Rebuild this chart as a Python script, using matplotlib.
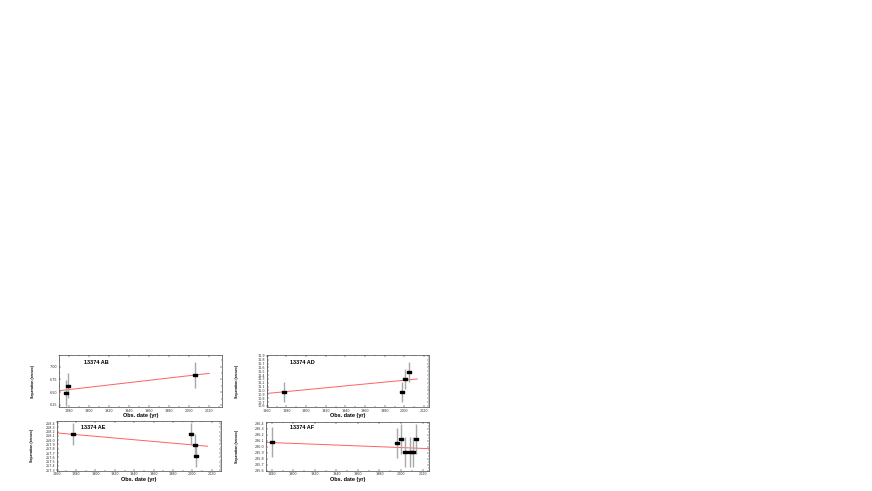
import matplotlib
matplotlib.use("Agg")
import matplotlib.pyplot as plt
from matplotlib.ticker import MultipleLocator, AutoMinorLocator

# ---------------- data ----------------
ab_years = [1876.7, 1878.4, 2005.7]
ab_sep = [6.48, 6.63, 6.84]
ab_err = [0.25, 0.25, 0.25]
ab_fit_x = [1870.0, 2020.0]
ab_fit_y = [6.53, 6.87]

ad_years = [1878.0, 1998.0, 2001.0, 2005.0]
ad_sep = [10.97, 10.96, 11.29, 11.49]
ad_err = [0.26, 0.27, 0.26, 0.26]
ad_fit_x = [1861.0, 2013.0]
ad_fit_y = [10.925, 11.30]

ae_years = [1876.8, 1998.4, 2002.8, 2003.5]
ae_sep = [258.145, 258.145, 257.88, 257.64]
ae_err = [0.26, 0.26, 0.27, 0.26]
ae_fit_x = [1860.0, 2015.6]
ae_fit_y = [258.17, 257.86]

af_years = [1880.0, 1996.0, 2000.0, 2004.0, 2008.0, 2011.0, 2013.5]
af_sep = [286.076, 286.065, 286.132, 285.909, 285.909, 285.919, 286.137]
af_err = [0.25, 0.25, 0.25, 0.25, 0.25, 0.25, 0.25]
af_fit_x = [1874.4, 2026.0]
af_fit_y = [286.076, 285.97]

titles = ["13374 AB", "13374 AD", "13374 AE", "13374 AF"]
xlabel = "Obs. date (yr)"
ylabel = "Separation (arcsec)"

# ---------------- layout ----------------
W, H = 872, 491
fig = plt.figure(figsize=(W / 100, H / 100), dpi=100)


def px_axes(x0, y0, x1, y1):
    return fig.add_axes([x0 / W, 1 - y1 / H, (x1 - x0) / W, (y1 - y0) / H])


panels = [
    dict(box=(59.3, 355, 222, 407), x=ab_years, y=ab_sep, e=ab_err, fx=ab_fit_x, fy=ab_fit_y,
         xlim=(1870, 2032.7), ylim=(6.21, 7.23), xt=20, yt=0.25, yfmt="%.2f",
         title_pos=(0.15, 0.85), ylab_x=33, xlab_y=415),
    dict(box=(266.7, 355, 429, 407), x=ad_years, y=ad_sep, e=ad_err, fx=ad_fit_x, fy=ad_fit_y,
         xlim=(1860, 2025), ylim=(10.57, 11.925), xt=20, yt=0.1, yfmt="%.1f",
         title_pos=(0.144, 0.85), ylab_x=237, xlab_y=415),
    dict(box=(56.7, 421, 221, 470.7), x=ae_years, y=ae_sep, e=ae_err, fx=ae_fit_x, fy=ae_fit_y,
         xlim=(1860, 2029.6), ylim=(257.29, 258.447), xt=20, yt=0.1, yfmt="%.1f",
         title_pos=(0.146, 0.86), ylab_x=32, xlab_y=479),
    dict(box=(265.7, 422, 429, 470.7), x=af_years, y=af_sep, e=af_err, fx=af_fit_x, fy=af_fit_y,
         xlim=(1874.4, 2026), ylim=(285.6, 286.417), xt=20, yt=0.1, yfmt="%.1f",
         title_pos=(0.146, 0.89), ylab_x=237, xlab_y=479),
]

rect = [(-2, -1), (2, -1), (2, 1), (-2, 1), (-2, -1)]

for p, title in zip(panels, titles):
    x0, y0, x1, y1 = p["box"]
    ax = px_axes(x0, y0, x1, y1)
    ax.plot(p["fx"], p["fy"], color="#ff6060", lw=0.7, zorder=2)
    ax.errorbar(p["x"], p["y"], yerr=p["e"], fmt="none", ecolor="#a8a8a8",
                elinewidth=1.0, capsize=0, zorder=3)
    ax.plot(p["x"], p["y"], linestyle="none", marker=rect, markersize=2.6,
            color="black", zorder=4)
    ax.set_xlim(*p["xlim"])
    ax.set_ylim(*p["ylim"])
    ax.xaxis.set_major_locator(MultipleLocator(p["xt"]))
    ax.yaxis.set_major_locator(MultipleLocator(p["yt"]))
    ax.xaxis.set_minor_locator(AutoMinorLocator(2))
    ax.yaxis.set_minor_locator(AutoMinorLocator(2))
    ax.yaxis.set_major_formatter(plt.FormatStrFormatter(p["yfmt"]))
    ax.xaxis.set_major_formatter(plt.FormatStrFormatter("%d"))
    ax.tick_params(which="both", direction="in", top=True, right=True,
                   labelsize=2.4, width=0.3, pad=1.2, labelcolor="#333333")
    ax.tick_params(which="major", length=1.6)
    ax.tick_params(which="minor", length=0.9)
    for s in ax.spines.values():
        s.set_linewidth(0.5)
        s.set_color("#444444")
    ax.text(p["title_pos"][0], p["title_pos"][1], title, transform=ax.transAxes,
            fontsize=4.0, fontweight="bold", family="Liberation Sans",
            ha="left", va="center")
    cx = (x0 + x1) / 2
    fig.text(cx / W, 1 - p["xlab_y"] / H, xlabel, ha="center", va="center",
             fontsize=4.0, fontweight="bold", family="Liberation Sans")
    fig.text(p["ylab_x"] / W, 1 - ((y0 + y1) / 2) / H, ylabel, ha="center",
             va="center", rotation=90, fontsize=2.6, fontweight="bold",
             family="Liberation Sans")

fig.savefig("out.png", dpi=100, facecolor="white")
